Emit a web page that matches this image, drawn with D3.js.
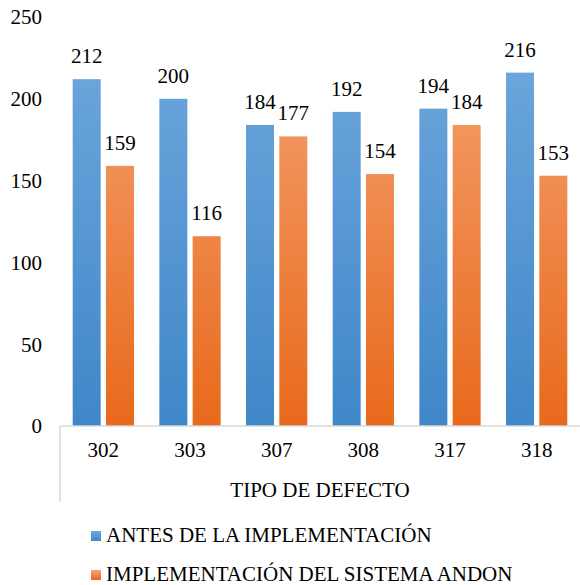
<!DOCTYPE html>
<html><head><meta charset="utf-8">
<script src="https://cdn.jsdelivr.net/npm/d3@7"></script>
</head>
<body style="margin:0;background:#fff">
<svg id="c" width="580" height="585" style="font-family:'Times New Roman',Tinos,'Liberation Serif',serif"></svg>
<script>
const categories = ["302","303","307","308","317","318"];
const seriesNames = ["ANTES DE LA IMPLEMENTACIÓN","IMPLEMENTACIÓN DEL SISTEMA ANDON"];
const antes = [212,200,184,192,194,216];
const andon = [159,116,177,154,184,153];
const yTicks = [0,50,100,150,200,250];
const xTitle = "TIPO DE DEFECTO";

const svg = d3.select("#c");
const defs = svg.append("defs");
function grad(id, top, bot){
  const g = defs.append("linearGradient").attr("id",id).attr("gradientUnits","userSpaceOnUse")
    .attr("x1",0).attr("x2",0).attr("y1",17).attr("y2",426);
  g.append("stop").attr("offset","0%").attr("stop-color",top);
  g.append("stop").attr("offset","100%").attr("stop-color",bot);
}
grad("gb","#71a9de","#3f87c8");
grad("go","#f5a576","#e8691b");

const x0 = d3.scaleBand().domain(categories).range([60,580]).padding(0);
const y = d3.scaleLinear().domain([0,250]).range([426,17]);
function tx(sel){
  sel.style("font-family","'Times New Roman', Tinos, 'Liberation Serif', serif").style("font-size","21px");
}

// y labels
svg.append("g").selectAll("text").data(yTicks).join("text")
  .attr("x",42).attr("y",d=>y(d)).attr("dy","0.35em").attr("text-anchor","end")
  .call(tx).text(d=>d);

const bw = 28, gap = 5.3;
const off = (x0.bandwidth() - (2*bw+gap))/2;
const series = [{vals:antes, fill:"url(#gb)"},{vals:andon, fill:"url(#go)"}];
series.forEach((s,si)=>{
  const g = svg.append("g");
  g.selectAll("rect").data(categories).join("rect")
    .attr("x",(c)=>x0(c)+off+si*(bw+gap)).attr("width",bw)
    .attr("y",(c,i)=>y(s.vals[i])).attr("height",(c,i)=>y(0)-y(s.vals[i]))
    .attr("fill",s.fill);
  g.selectAll("text").data(categories).join("text")
    .attr("x",(c)=>x0(c)+off+si*(bw+gap)+bw/2).attr("y",(c,i)=>y(s.vals[i])-16)
    .attr("text-anchor","middle").call(tx).text((c,i)=>s.vals[i]);
});

// axis lines
svg.append("line").attr("x1",60).attr("x2",580).attr("y1",426).attr("y2",426)
  .attr("stroke","#d9d9d9").attr("stroke-width",1.5);
svg.append("line").attr("x1",60).attr("x2",60).attr("y1",426).attr("y2",502)
  .attr("stroke","#d9d9d9").attr("stroke-width",1.5);

// category labels
svg.append("g").selectAll("text").data(categories).join("text")
  .attr("x",c=>x0(c)+x0.bandwidth()/2).attr("y",457).attr("text-anchor","middle")
  .call(tx).text(c=>c);
svg.append("text").attr("x",320).attr("y",497).attr("text-anchor","middle")
  .call(tx).text(xTitle);

// legend
const legFills = ["url(#lgb)","url(#lgo)"];
[["lgb","#71a9de","#3f87c8"],["lgo","#f5a576","#e8691b"]].forEach(a=>{
  const g = defs.append("linearGradient").attr("id",a[0]).attr("x1",0).attr("x2",0).attr("y1",0).attr("y2",1);
  g.append("stop").attr("offset","0%").attr("stop-color",a[1]);
  g.append("stop").attr("offset","100%").attr("stop-color",a[2]);
});
const lg = svg.append("g");
lg.selectAll("rect").data(seriesNames).join("rect")
  .attr("x",91).attr("y",(d,i)=>531+i*39).attr("width",10).attr("height",10)
  .attr("fill",(d,i)=>legFills[i]);
lg.selectAll("text").data(seriesNames).join("text")
  .attr("x",106).attr("y",(d,i)=>542+i*39).call(tx).text(d=>d);
</script></body></html>
